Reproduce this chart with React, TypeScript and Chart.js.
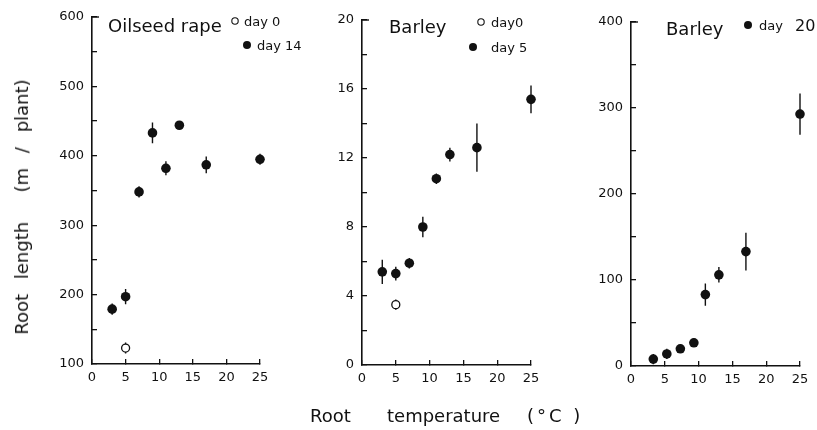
import React, { useEffect, useRef } from "react";
import { Chart, registerables } from "chart.js";

Chart.register(...registerables);

const W = 817;
const H = 430;
const OFF = 20; // canvases are OFF px larger on top and right so padding is never clamped
const FONT = "'DejaVu Sans', sans-serif";
const INK = "#111";

// ---------- data ----------
const temps = [3, 5, 7, 9, 11, 13, 17, 25];
const xTickValues = [0, 5, 10, 15, 20, 25];

// Oilseed rape
const rapeDay14 = [179, 197, 348, 433, 382, 444, 387, 395];
const rapeDay14Err = [8, 11, 8, 15, 10, 6, 12, 8];
const rapeDay0Temps = [5];
const rapeDay0 = [123];
const rapeDay0Err = [8];
const rapeYTicks = [100, 200, 300, 400, 500, 600];
const rapeYMinor = [150, 250, 350, 450, 550];

// Barley day 5
const barleyDay5 = [5.4, 5.3, 5.9, 8.0, 10.8, 12.2, 12.6, 15.4];
const barleyDay5Err = [0.7, 0.4, 0.3, 0.6, 0.3, 0.4, 1.4, 0.8];
const barleyDay0Temps = [5];
const barleyDay0 = [3.5];
const barleyDay0Err = [0.3];
const barleyYTicks = [0, 4, 8, 12, 16, 20];
const barleyYMinor = [2, 6, 10, 14, 18];

// Barley day 20
const barley20Temps = [3.3, 5.3, 7.3, 9.3, 11, 13, 17, 25];
const barleyDay20 = [8, 14, 20, 27, 83, 106, 133, 293];
const barleyDay20Err = [6, 6, 5, 5, 13, 9, 22, 24];
const barley20YTicks = [0, 100, 200, 300, 400];
const barley20YMinor = [50, 150, 250, 350];

// ---------- panel layout ----------
interface Series { xs: number[]; ys: number[]; errs: number[]; open: boolean }
interface LegendItem { open: boolean; cx: number; cy: number; tx: number; ty: number; label: string; extra?: string; extraX?: number }
interface Panel {
  box: { left: number; right: number; top: number; bottom: number };
  yMin: number; yMax: number;
  yMajor: number[]; yMinor: number[];
  title: string; titleX: number; titleY: number;
  legend: LegendItem[];
  series: Series[];
}

const panels: Panel[] = [
  {
    box: { left: 92, right: 260, top: 17, bottom: 364 },
    yMin: 100, yMax: 600, yMajor: rapeYTicks, yMinor: rapeYMinor,
    title: "Oilseed rape", titleX: 108, titleY: 32,
    legend: [
      { open: true, cx: 235, cy: 21, tx: 244, ty: 26, label: "day 0" },
      { open: false, cx: 247, cy: 45, tx: 257, ty: 50, label: "day 14" },
    ],
    series: [
      { xs: rapeDay0Temps, ys: rapeDay0, errs: rapeDay0Err, open: true },
      { xs: temps, ys: rapeDay14, errs: rapeDay14Err, open: false },
    ],
  },
  {
    box: { left: 362, right: 531, top: 20, bottom: 365 },
    yMin: 0, yMax: 20, yMajor: barleyYTicks, yMinor: barleyYMinor,
    title: "Barley", titleX: 389, titleY: 33,
    legend: [
      { open: true, cx: 481, cy: 22, tx: 491, ty: 27, label: "day0" },
      { open: false, cx: 473, cy: 47, tx: 491, ty: 52, label: "day 5" },
    ],
    series: [
      { xs: barleyDay0Temps, ys: barleyDay0, errs: barleyDay0Err, open: true },
      { xs: temps, ys: barleyDay5, errs: barleyDay5Err, open: false },
    ],
  },
  {
    box: { left: 631, right: 800, top: 22, bottom: 366 },
    yMin: 0, yMax: 400, yMajor: barley20YTicks, yMinor: barley20YMinor,
    title: "Barley", titleX: 666, titleY: 35,
    legend: [
      { open: false, cx: 748, cy: 25, tx: 759, ty: 30, label: "day", extra: "20", extraX: 795 },
    ],
    series: [
      { xs: barley20Temps, ys: barleyDay20, errs: barleyDay20Err, open: false },
    ],
  },
];

function makePlugin(p: Panel) {
  return {
    id: "panelDeco",
    beforeDatasetsDraw(chart: any) {
      const ctx = chart.ctx as CanvasRenderingContext2D;
      const xs = chart.scales.x;
      const ys = chart.scales.y;
      ctx.save();
      ctx.setLineDash([]);
      ctx.strokeStyle = INK;
      ctx.lineWidth = 1.4;
      ctx.beginPath();
      p.series.forEach((s) => {
        s.xs.forEach((xv, j) => {
          const px = xs.getPixelForValue(xv);
          ctx.moveTo(px, ys.getPixelForValue(s.ys[j] - s.errs[j]));
          ctx.lineTo(px, ys.getPixelForValue(s.ys[j] + s.errs[j]));
        });
      });
      ctx.stroke();
      ctx.restore();
    },
    afterDraw(chart: any) {
      const ctx = chart.ctx as CanvasRenderingContext2D;
      const ys = chart.scales.y;
      const left = chart.chartArea.left;
      const top = ys.getPixelForValue(p.yMax);
      ctx.save();
      ctx.fillStyle = INK;
      ctx.strokeStyle = INK;
      // top bracket of the y axis
      ctx.lineWidth = 1.4;
      ctx.beginPath();
      ctx.moveTo(left, top);
      ctx.lineTo(left + 7, top);
      ctx.stroke();

      ctx.translate(0, OFF);
      ctx.textBaseline = "alphabetic";
      ctx.textAlign = "left";
      ctx.font = `18px ${FONT}`;
      ctx.fillText(p.title, p.titleX, p.titleY);
      for (const l of p.legend) {
        ctx.beginPath();
        ctx.arc(l.cx, l.cy, l.open ? 3.2 : 4, 0, Math.PI * 2);
        if (l.open) {
          ctx.lineWidth = 1.1;
          ctx.stroke();
        } else {
          ctx.fill();
        }
        ctx.font = `13px ${FONT}`;
        ctx.fillText(l.label, l.tx, l.ty);
        if (l.extra && l.extraX) {
          ctx.font = `16px ${FONT}`;
          ctx.fillText(l.extra, l.extraX, l.ty + 1);
        }
      }
      ctx.restore();
    },
  };
}

function PanelChart({ p }: { p: Panel }) {
  const ref = useRef<HTMLCanvasElement | null>(null);
  const CH = H + OFF;
  const CW = W + OFF;
  useEffect(() => {
    if (!ref.current) return;
    const yAxisW = 40;
    const xAxisH = 30;
    const allY = p.yMajor.concat(p.yMinor).sort((a, b) => a - b);
    const chart = new Chart(ref.current, {
      type: "scatter",
      data: {
        datasets: p.series.map((s) => ({
          data: s.xs.map((x, i) => ({ x, y: s.ys[i] })),
          pointRadius: s.open ? 4 : 4.8,
          pointBackgroundColor: s.open ? "#fff" : INK,
          pointBorderColor: INK,
          pointBorderWidth: s.open ? 1.3 : 0,
          showLine: false,
          clip: false as any,
        })),
      },
      options: {
        responsive: false,
        animation: false,
        events: [],
        layout: {
          padding: {
            left: p.box.left - yAxisW,
            right: CW - p.box.right,
            top: p.box.top + OFF,
            bottom: CH - (p.box.bottom + OFF) - xAxisH,
          },
        },
        plugins: { legend: { display: false }, tooltip: { enabled: false } },
        scales: {
          x: {
            type: "linear",
            min: 0,
            max: 25,
            grid: { display: true, drawOnChartArea: false, drawTicks: true, tickLength: -5, color: INK, lineWidth: 1.3 },
            border: { display: true, color: INK, width: 1.6 },
            afterBuildTicks: (s: any) => {
              s.ticks = xTickValues.map((v) => ({ value: v }));
            },
            afterFit: (s: any) => {
              s.height = xAxisH;
            },
            ticks: { color: INK, font: { family: FONT, size: 13 }, padding: 11, maxRotation: 0, autoSkip: false },
          },
          y: {
            type: "linear",
            min: p.yMin,
            max: p.yMax,
            grid: { display: true, drawOnChartArea: false, drawTicks: true, tickLength: -5, color: INK, lineWidth: 1.3 },
            border: { display: true, color: INK, width: 1.6 },
            afterBuildTicks: (s: any) => {
              s.ticks = allY.map((v) => ({ value: v }));
            },
            afterFit: (s: any) => {
              s.width = yAxisW;
            },
            ticks: {
              color: INK,
              font: { family: FONT, size: 13 },
              padding: 13,
              autoSkip: false,
              callback: (v: any) => (p.yMajor.includes(Number(v)) ? String(v) : ""),
            },
          },
        },
      } as any,
      plugins: [makePlugin(p)],
    });
    return () => chart.destroy();
  }, [p]);
  return (
    <canvas
      ref={ref}
      width={CW}
      height={CH}
      style={{ position: "absolute", left: 0, top: -OFF, width: CW, height: CH }}
    />
  );
}

export default function App() {
  const titleStyle: React.CSSProperties = {
    position: "absolute",
    fontFamily: FONT,
    fontSize: 18,
    lineHeight: "18px",
    color: INK,
    whiteSpace: "pre",
  };
  return (
    <div style={{ position: "absolute", left: 0, top: 0, width: W, height: H, background: "#fff", overflow: "hidden" }}>
      {panels.map((p, i) => (
        <PanelChart key={i} p={p} />
      ))}
      <div
        style={{
          ...titleStyle,
          left: 22,
          top: 207,
          wordSpacing: 9,
          transform: "translate(-50%, -50%) rotate(-90deg)",
        }}
      >
        {"Root length  (m / plant)"}
      </div>
      <div style={{ ...titleStyle, left: 310, top: 407 }}>Root</div>
      <div style={{ ...titleStyle, left: 387, top: 407 }}>temperature</div>
      <div style={{ ...titleStyle, left: 527, top: 407, letterSpacing: 3 }}>{"(°C )"}</div>
    </div>
  );
}
